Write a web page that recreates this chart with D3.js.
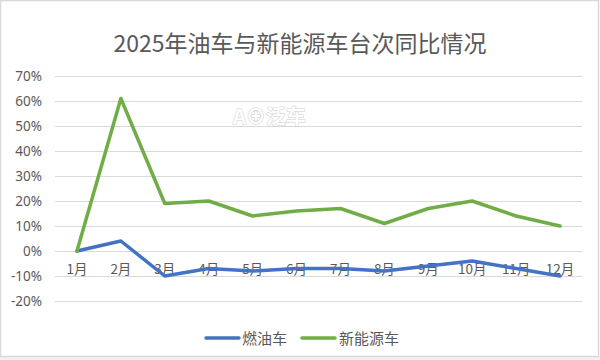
<!DOCTYPE html>
<html>
<head>
<meta charset="utf-8">
<script src="https://cdn.jsdelivr.net/npm/d3@7/dist/d3.min.js"></script>
<style>
html,body{margin:0;padding:0;background:#fff;}
svg{display:block;}
text{font-family:"Noto Sans CJK SC","Noto Sans",sans-serif;}
</style>
</head>
<body>
<svg id="chart" width="600" height="360"></svg>
<script>
const titleText = "2025年油车与新能源车台次同比情况";
const categories = ["1月","2月","3月","4月","5月","6月","7月","8月","9月","10月","11月","12月"];
const seriesNames = ["燃油车","新能源车"];
const fuelValues = [0, 4, -10, -7, -8, -7, -7, -8, -6, -4, -7, -10];
const nevValues = [0, 61, 19, 20, 14, 16, 17, 11, 17, 20, 14, 10];
const yTicks = [-20,-10,0,10,20,30,40,50,60,70];
const colors = ["#4472C4","#70AD47"];

const svg = d3.select("#chart");
const W = 600, H = 360;

// background strip (spreadsheet under chart)
svg.append("rect").attr("x",0).attr("y",356).attr("width",W).attr("height",4).attr("fill","#f2f2f2");
// chart frame
svg.append("rect").attr("x",0.5).attr("y",0.5).attr("width",598).attr("height",356)
  .attr("fill","#fff").attr("stroke","#d9d9d9").attr("stroke-width",1.5);

const plotL = 55, plotR = 582, plotT = 76, plotB = 301;
const x = d3.scaleBand().domain(categories).range([plotL,plotR]).padding(0);
const y = d3.scaleLinear().domain([-20,70]).range([plotB,plotT]);

// title
svg.append("text").attr("x",300).attr("y",52).attr("text-anchor","middle")
  .attr("font-size",23).attr("fill","#595959").text(titleText);

// gridlines
const yAxis = d3.axisLeft(y).tickValues(yTicks).tickSize(-(plotR-plotL)).tickFormat(d=>d+"%").tickPadding(13);
const gy = svg.append("g").attr("transform",`translate(${plotL},0)`).call(yAxis);
gy.select(".domain").remove();
gy.selectAll(".tick line").attr("stroke","#d9d9d9").attr("stroke-width",1);
gy.selectAll(".tick text").attr("fill","#595959").attr("font-size",13.5)
  .style("font-family","'Noto Sans','DejaVu Sans',sans-serif");

// watermark
svg.append("text").attr("x",233).attr("y",124).attr("font-size",20).attr("font-weight","bold")
  .attr("fill","#ffffff").attr("stroke","#cfcfcf").attr("stroke-width",1)
  .attr("paint-order","stroke").text("A⊕泛车");

// x axis labels at zero line
const xAxis = d3.axisBottom(x).tickSize(0).tickPadding(13);
const gx = svg.append("g").attr("transform",`translate(0,${y(0)})`).call(xAxis);
gx.select(".domain").remove();
gx.selectAll(".tick text").attr("fill","#595959").attr("font-size",13.5);

// lines
const line = d3.line().x((d,i)=>x(categories[i])+x.bandwidth()/2).y(d=>y(d)).curve(d3.curveLinear);
[fuelValues, nevValues].forEach((vals,k)=>{
  svg.append("path").datum(vals).attr("d",line).attr("fill","none")
    .attr("stroke",colors[k]).attr("stroke-width",3.5)
    .attr("stroke-linejoin","round").attr("stroke-linecap","round");
});

// legend
const legendY = 338;
const lg = svg.append("g");
const legendItems = [{x:206, tx:242},{x:302, tx:339}];
seriesNames.forEach((n,k)=>{
  lg.append("line").attr("x1",legendItems[k].x).attr("x2",legendItems[k].x+33)
    .attr("y1",legendY).attr("y2",legendY).attr("stroke",colors[k]).attr("stroke-width",3.5)
    .attr("stroke-linecap","round");
  lg.append("text").attr("x",legendItems[k].tx).attr("y",legendY+5.5).attr("font-size",15)
    .attr("fill","#595959").text(n);
});
</script>
</body>
</html>
